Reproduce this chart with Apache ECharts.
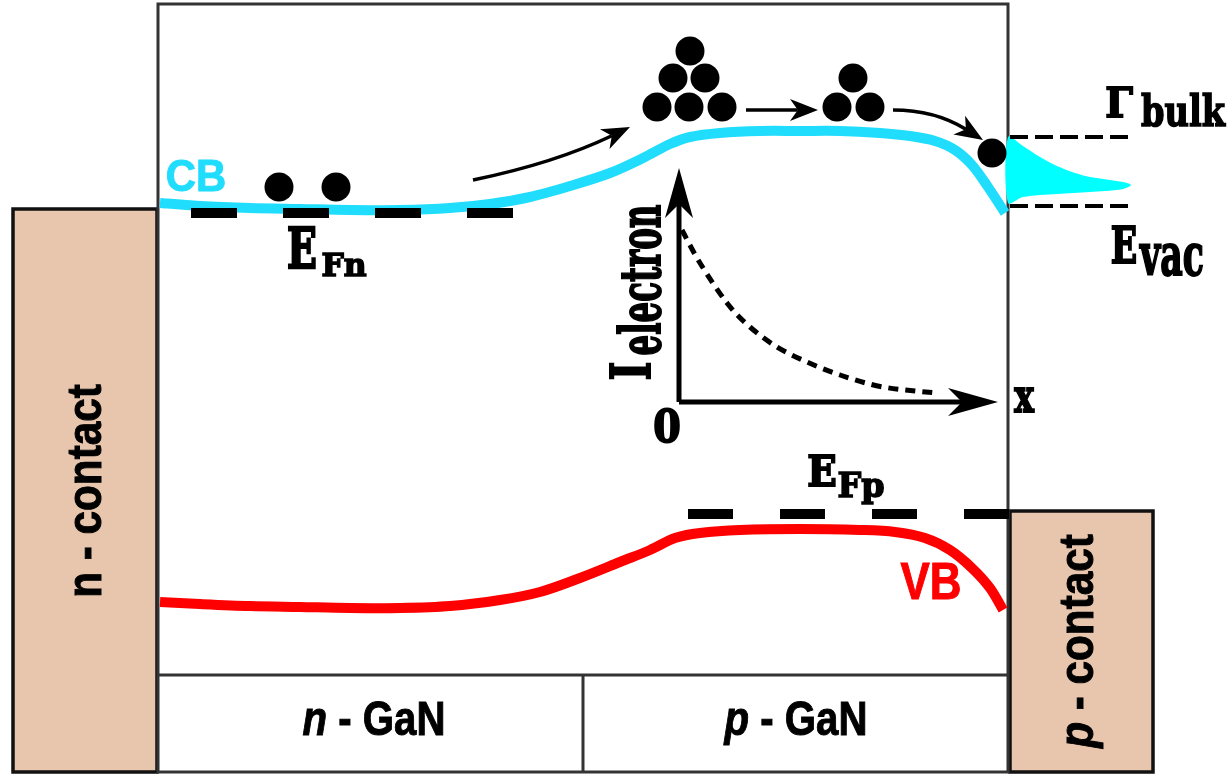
<!DOCTYPE html>
<html>
<head>
<meta charset="utf-8">
<script src="https://cdn.jsdelivr.net/npm/echarts@6/dist/echarts.min.js"></script>
<style>
  html, body { margin: 0; padding: 0; background: #ffffff; }
  #chart { width: 1232px; height: 776px; }
</style>
</head>
<body>
<div id="chart"></div>
<script>
// Energy band diagram of a GaN p-n junction with electron emission at the p-side surface.
// Everything lives on one value grid: x = position (0..1232), y = energy, drawn downwards (0..776).

// Band edges
const conductionBand = [[160,203],[200,206],[250,208],[300,209],[350,210],[400,210],[450,208],[490,204],[530,197],[570,186],[610,173],[645,157],[670,144],[690,137],[720,133],[760,131],[800,131],[840,131],[880,133],[910,136],[935,141],[955,150],[972,165],[988,187],[1005,213]];
const valenceBand = [[160,602],[200,604],[250,606],[300,607],[350,608],[400,608],[450,606],[500,600],[540,592],[580,578],[620,562],[650,550],[675,538],[700,533],[740,530],[800,529],[860,530],[895,532],[925,538],[950,550],[972,568],[990,588],[1003,610]];

// Quasi-Fermi levels and vacuum-side levels
const fermiN = [[191,213],[513,213]];
const fermiP = [[688,514],[1010,514]];
const bulkLevel = [[1010,137],[1134,137]];
const vacuumLevel = [[1010,206],[1134,206]];

// Emitted electron energy distribution outside the surface
const emissionTailUpper = [[1008,137],[1023,146],[1040,157],[1057,166],[1075,173],[1090,177],[1110,180],[1123,182],[1131,185]];
const emissionTailLower = [[1123,189],[1105,191],[1090,192],[1057,194],[1023,197],[1008,203]];

// Inset: electron current decaying with depth x
const currentDecay = [[682,230],[700,263],[727,303],[750,327],[777,347],[807,362],[840,375],[883,387],[937,393]];

// Electrons
const electrons = [[279,187],[336,187],[690,51],[673,78],[705,78],[657,107],[689,107],[722,107],[853,78],[837,107],[870,107],[992,153]];

// Arrows: start, control, end
const transportArrows = [[473,180,555,163,630,127],[746,110,782,110,818,110],[893,110,935,110,983,140]];
const insetAxes = [[679,402,679,300,679,168],[679,402,840,402,998,402]];

// Boxes: x0, y0, x1, y1
const boxes = [[13,209,157,772],[1010,511,1153,772],[158,4,1008,772]];
const layerLines = [[158,675,1008,675],[583,675,583,772]];

const SANS = '"Liberation Sans", Arial, Helvetica, sans-serif';
const SLAB = '"DejaVu Serif", serif';
const CB_COLOR = '#21ddfd';

const boxStyles = [
  { fill: '#e8c6ae', stroke: '#111111', lineWidth: 3.5 },
  { fill: '#e8c6ae', stroke: '#111111', lineWidth: 3.5 },
  { fill: null, stroke: '#333333', lineWidth: 3 }
];

// Text labels (anchor at horizontal centre / em middle); w = extra stroke for heavier glyphs
const labels = [
  { text: 'CB', x: 196, y: 179, size: 44, font: SANS, color: CB_COLOR, sx: 0.95, w: 1 },
  { text: 'VB', x: 931, y: 585, size: 51, font: SANS, color: '#ff0000', sx: 0.86, w: 1 },
  { text: 'E', x: 302, y: 253, size: 56, font: SLAB, sx: 0.7, w: 2.5 },
  { text: 'Fn', x: 344, y: 268, size: 32, font: SLAB, sx: 0.98, w: 1.6 },
  { text: 'E', x: 822, y: 475, size: 43, font: SLAB, sx: 0.9, w: 2 },
  { text: 'Fp', x: 861, y: 488, size: 34, font: SLAB, sx: 0.98, w: 1.6 },
  { text: '\u0393', x: 1119, y: 106, size: 41, font: SLAB, sx: 0.95, w: 1.8 },
  { text: 'bulk', x: 1183, y: 115, size: 42, font: SLAB, sx: 0.8, w: 1.6 },
  { text: 'E', x: 1124, y: 250, size: 51, font: SLAB, sx: 0.68, w: 2.2 },
  { text: 'vac', x: 1172, y: 260, size: 58, font: SLAB, sx: 0.6, w: 2 },
  { text: 'I', x: 636, y: 371, size: 54, font: SLAB, sx: 0.75, w: 2, rot: 90 },
  { text: 'electron', x: 645, y: 280, size: 56, font: SLAB, sx: 0.58, w: 2, rot: 90 },
  { text: '0', x: 667, y: 430, size: 45, font: SLAB, sx: 0.88, w: 2 },
  { text: 'x', x: 1024, y: 400, size: 46, font: SLAB, sx: 0.72, w: 1.8 },
  { text: 'n - contact', x: 88, y: 491, size: 48, font: SANS, sx: 0.88, w: 1, rot: 90 },
  { text: '{i|p} - contact', x: 1080, y: 641, size: 48, font: SANS, sx: 0.88, w: 1, rot: 90 },
  { text: '{i|n} - GaN', x: 374, y: 721, size: 49, font: SANS, sx: 0.82, w: 1 },
  { text: '{i|p} - GaN', x: 796, y: 721, size: 49, font: SANS, sx: 0.82, w: 1 }
];

// Smooth curve through pixel points (Catmull-Rom converted to cubic Bezier segments)
function smoothPath(pts) {
  let d = 'M' + pts[0][0] + ' ' + pts[0][1];
  for (let i = 0; i < pts.length - 1; i++) {
    const p0 = pts[Math.max(i - 1, 0)], p1 = pts[i], p2 = pts[i + 1], p3 = pts[Math.min(i + 2, pts.length - 1)];
    const c1x = p1[0] + (p2[0] - p0[0]) / 6, c1y = p1[1] + (p2[1] - p0[1]) / 6;
    const c2x = p2[0] - (p3[0] - p1[0]) / 6, c2y = p2[1] - (p3[1] - p1[1]) / 6;
    d += ' C' + c1x + ' ' + c1y + ' ' + c2x + ' ' + c2y + ' ' + p2[0] + ' ' + p2[1];
  }
  return d;
}

function curveSeries(name, points, color, width, dash) {
  return {
    name: name, type: 'custom', silent: true, clip: false,
    data: [points[0]],
    renderItem: function (params, api) {
      const px = points.map(function (p) { return api.coord(p); });
      return {
        type: 'path',
        shape: { pathData: smoothPath(px) },
        style: { stroke: color, lineWidth: width, fill: null, lineDash: dash || null, lineCap: 'butt', lineJoin: 'round' }
      };
    }
  };
}

function arrowShapes(api, v, headLen, headHalf, width) {
  const s = api.coord([v[0], v[1]]);
  const c = api.coord([v[2], v[3]]);
  const e = api.coord([v[4], v[5]]);
  let dx = e[0] - c[0], dy = e[1] - c[1];
  const len = Math.hypot(dx, dy) || 1;
  dx /= len; dy /= len;
  const nx = -dy, ny = dx;
  const bx = e[0] - dx * headLen, by = e[1] - dy * headLen;
  const notch = [e[0] - dx * headLen * 0.72, e[1] - dy * headLen * 0.72];
  return {
    type: 'group',
    children: [
      {
        type: 'bezierCurve',
        shape: { x1: s[0], y1: s[1], cpx1: c[0], cpy1: c[1], x2: notch[0], y2: notch[1] },
        style: { stroke: '#000', lineWidth: width, fill: null }
      },
      {
        type: 'polygon',
        shape: { points: [e, [bx + nx * headHalf, by + ny * headHalf], notch, [bx - nx * headHalf, by - ny * headHalf]] },
        style: { fill: '#000', stroke: null }
      }
    ]
  };
}

function values(api, n) {
  const out = [];
  for (let i = 0; i < n; i++) out.push(api.value(i));
  return out;
}

const chart = echarts.init(document.getElementById('chart'), null, { renderer: 'canvas' });

chart.setOption({
  animation: false,
  backgroundColor: '#ffffff',
  grid: { left: 0, right: 0, top: 0, bottom: 0 },
  xAxis: { type: 'value', min: 0, max: 1232, show: false },
  yAxis: { type: 'value', min: 0, max: 776, inverse: true, show: false },
  series: [
    {
      name: 'boxes', type: 'custom', silent: true, clip: false,
      data: boxes,
      renderItem: function (params, api) {
        const v = values(api, 4);
        const p0 = api.coord([v[0], v[1]]);
        const p1 = api.coord([v[2], v[3]]);
        return {
          type: 'rect',
          shape: { x: p0[0], y: p0[1], width: p1[0] - p0[0], height: p1[1] - p0[1] },
          style: boxStyles[params.dataIndex]
        };
      }
    },
    {
      name: 'layers', type: 'custom', silent: true, clip: false,
      data: layerLines,
      renderItem: function (params, api) {
        const v = values(api, 4);
        const p0 = api.coord([v[0], v[1]]);
        const p1 = api.coord([v[2], v[3]]);
        return {
          type: 'line',
          shape: { x1: p0[0], y1: p0[1], x2: p1[0], y2: p1[1] },
          style: { stroke: '#333333', lineWidth: 3 }
        };
      }
    },
    {
      name: 'emission', type: 'custom', silent: true, clip: false,
      data: [emissionTailUpper[0]],
      renderItem: function (params, api) {
        const pts = emissionTailUpper.concat(emissionTailLower).map(function (p) { return api.coord(p); });
        return { type: 'polygon', shape: { points: pts, smooth: 0.3 }, style: { fill: '#00ffff', stroke: null } };
      }
    },
    curveSeries('CB', conductionBand, CB_COLOR, 10),
    curveSeries('VB', valenceBand, '#ff0000', 10),
    {
      name: 'EFn', type: 'line', data: fermiN, symbol: 'none', silent: true,
      lineStyle: { color: '#000', width: 10, type: [46, 46], cap: 'butt' }
    },
    {
      name: 'EFp', type: 'line', data: fermiP, symbol: 'none', silent: true,
      lineStyle: { color: '#000', width: 10, type: [45, 47], cap: 'butt' }
    },
    {
      name: 'bulk', type: 'line', data: bulkLevel, symbol: 'none', silent: true,
      lineStyle: { color: '#000', width: 4, type: [18, 7], cap: 'butt' }
    },
    {
      name: 'vacuum', type: 'line', data: vacuumLevel, symbol: 'none', silent: true,
      lineStyle: { color: '#000', width: 4, type: [18, 7], cap: 'butt' }
    },
    curveSeries('decay', currentDecay, '#000', 5, [10, 7]),
    {
      name: 'transport', type: 'custom', silent: true, clip: false,
      data: transportArrows,
      renderItem: function (params, api) { return arrowShapes(api, values(api, 6), 28, 11, 3.5); }
    },
    {
      name: 'insetAxes', type: 'custom', silent: true, clip: false,
      data: insetAxes,
      renderItem: function (params, api) { return arrowShapes(api, values(api, 6), 50, 14, 5); }
    },
    {
      name: 'electrons', type: 'scatter', data: electrons, symbol: 'circle', symbolSize: 29, silent: true,
      itemStyle: { color: '#000', opacity: 1 }
    },
    {
      name: 'labels', type: 'custom', silent: true, clip: false,
      data: labels.map(function (l) { return [l.x, l.y]; }),
      renderItem: function (params, api) {
        const l = labels[params.dataIndex];
        const p = api.coord([api.value(0), api.value(1)]);
        const col = l.color || '#000';
        return {
          type: 'text',
          x: p[0], y: p[1],
          rotation: (l.rot || 0) * Math.PI / 180,
          scaleX: l.sx || 1,
          style: {
            text: l.text,
            fontFamily: l.font,
            fontSize: l.size,
            fontWeight: 'bold',
            fill: col,
            stroke: col,
            lineWidth: l.w || 0,
            align: 'center',
            verticalAlign: 'middle',
            rich: { i: { fontFamily: l.font, fontSize: l.size, fontWeight: 'bold', fontStyle: 'italic', fill: col, stroke: col, lineWidth: l.w || 0 } }
          }
        };
      }
    }
  ]
});
</script>
</body>
</html>
